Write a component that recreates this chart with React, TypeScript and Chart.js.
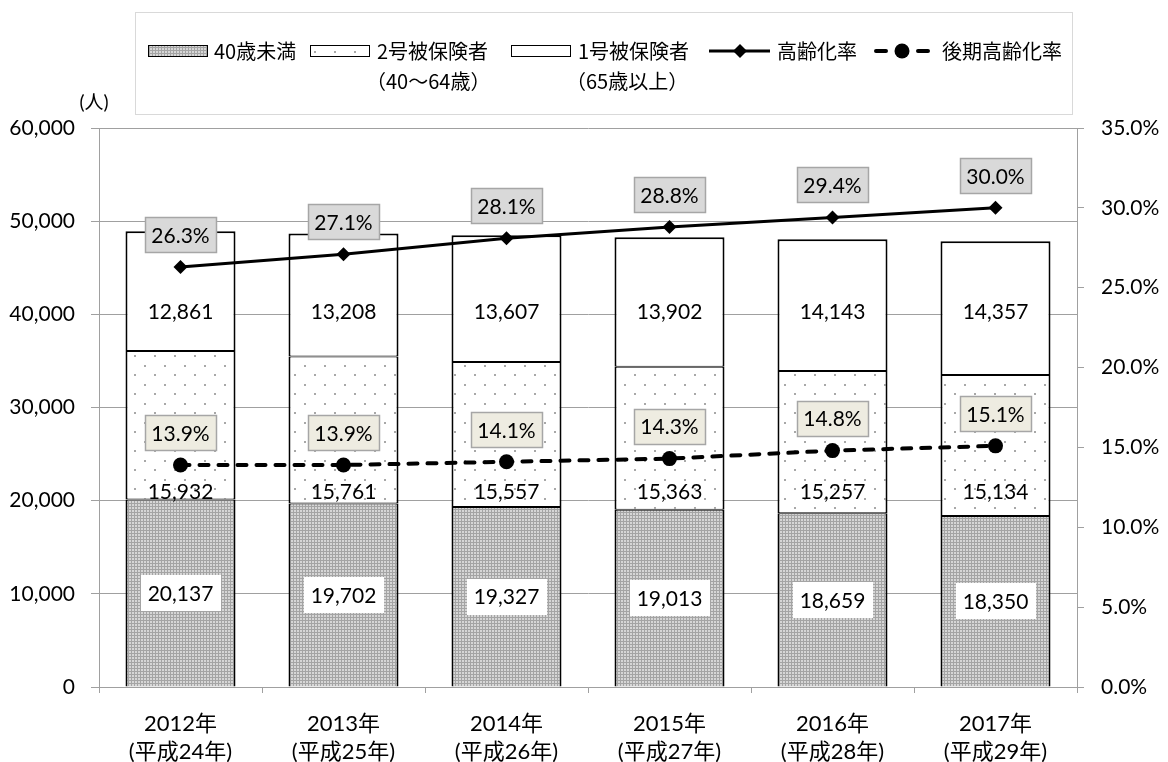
import { useEffect, useRef } from 'react';
import { Chart, registerables } from 'chart.js';

Chart.register(...registerables);

// ---- data ----
const years = ['2012年', '2013年', '2014年', '2015年', '2016年', '2017年'];
const eras = ['(平成24年)', '(平成25年)', '(平成26年)', '(平成27年)', '(平成28年)', '(平成29年)'];
const under40 = [20137, 19702, 19327, 19013, 18659, 18350];
const insured2 = [15932, 15761, 15557, 15363, 15257, 15134];
const insured1 = [12861, 13208, 13607, 13902, 14143, 14357];
const agingRate = [26.3, 27.1, 28.1, 28.8, 29.4, 30.0];
const lateAgingRate = [13.9, 13.9, 14.1, 14.3, 14.8, 15.1];
const leftAxis = { min: 0, max: 60000, step: 10000 };
const rightAxis = { min: 0, max: 35, step: 5 };

const FONT = "Lato, 'Noto Sans CJK JP', sans-serif";
const JFONT = "'Noto Sans CJK JP', sans-serif";
const GRID = '#a0a0a0';

function makeChecker(ctx: CanvasRenderingContext2D): CanvasPattern {
  const c = document.createElement('canvas');
  c.width = 3;
  c.height = 3;
  const g = c.getContext('2d')!;
  g.fillStyle = '#a4a4a4';
  g.fillRect(0, 0, 3, 3);
  g.fillStyle = '#d6d6d6';
  g.fillRect(0, 0, 2, 2);
  return ctx.createPattern(c, 'repeat')!;
}

function makeDots(ctx: CanvasRenderingContext2D): CanvasPattern {
  const c = document.createElement('canvas');
  c.width = 20;
  c.height = 19;
  const g = c.getContext('2d')!;
  g.fillStyle = '#ffffff';
  g.fillRect(0, 0, 20, 19);
  g.fillStyle = '#a8a8a8';
  g.fillRect(4, 4, 2, 2);
  g.fillRect(14, 13, 2, 2);
  return ctx.createPattern(c, 'repeat')!;
}

function fmt(v: number) {
  return v.toLocaleString('en-US');
}

function boxLabel(
  ctx: CanvasRenderingContext2D,
  x: number,
  y: number,
  text: string,
  fill: string,
  stroke: string | null,
  padX: number,
  h: number
) {
  const w = Math.round(ctx.measureText(text).width + padX * 2);
  const left = Math.round(x - w / 2);
  const top = Math.round(y - h / 2);
  ctx.fillStyle = fill;
  ctx.fillRect(left, top, w, h);
  if (stroke) {
    ctx.strokeStyle = stroke;
    ctx.lineWidth = 1.5;
    ctx.strokeRect(left + 0.5, top + 0.5, w - 1, h - 1);
  }
  ctx.fillStyle = '#000';
  ctx.fillText(text, x, y + 1);
}

export default function App() {
  const ref = useRef<HTMLCanvasElement>(null);

  useEffect(() => {
    document.body.style.margin = '0';
    const canvas = ref.current!;
    const ctx = canvas.getContext('2d')!;
    const checker = makeChecker(ctx);
    const dots = makeDots(ctx);

    const labelPlugin = {
      id: 'valueLabels',
      afterDatasetsDraw(chart: any) {
        const c: CanvasRenderingContext2D = chart.ctx;
        const ys = chart.scales.y;
        c.save();
        c.font = `21px ${FONT}`;
        c.textAlign = 'center';
        c.textBaseline = 'middle';
        const mU = chart.getDatasetMeta(2);
        const m2 = chart.getDatasetMeta(3);
        const m1 = chart.getDatasetMeta(4);
        const mA = chart.getDatasetMeta(0);
        const mL = chart.getDatasetMeta(1);
        const row2 = ys.getPixelForValue(20900);
        const row1 = ys.getPixelForValue(40200);
        under40.forEach((v, i) => {
          const b = mU.data[i];
          boxLabel(c, b.x, (b.y + b.base) / 2, fmt(v), '#ffffff', null, 7, 36);
        });
        insured2.forEach((v, i) => {
          c.fillStyle = '#000';
          c.fillText(fmt(v), m2.data[i].x, row2);
        });
        insured1.forEach((v, i) => {
          c.fillStyle = '#000';
          c.fillText(fmt(v), m1.data[i].x, row1);
        });
        agingRate.forEach((v, i) => {
          const p = mA.data[i];
          boxLabel(c, p.x, p.y - 32, v.toFixed(1) + '%', '#d9d9d9', '#a6a6a6', 7, 36);
        });
        lateAgingRate.forEach((v, i) => {
          const p = mL.data[i];
          boxLabel(c, p.x, p.y - 32, v.toFixed(1) + '%', '#eeece1', '#a6a6a6', 7, 36);
        });
        c.restore();
      },
    };

    const legendPlugin = {
      id: 'customLegend',
      afterDraw(chart: any) {
        const c: CanvasRenderingContext2D = chart.ctx;
        c.save();
        // frame
        c.strokeStyle = '#d9d9d9';
        c.lineWidth = 1;
        c.strokeRect(135.5, 12.5, 937, 102);
        const ty = 51;
        c.font = `20px ${JFONT}`;
        c.textBaseline = 'middle';
        c.textAlign = 'left';
        // item 1
        c.fillStyle = checker;
        c.fillRect(148, 45, 60, 12);
        c.strokeStyle = '#000';
        c.strokeRect(148.5, 45.5, 59, 11);
        c.fillStyle = '#000';
        c.fillText('40歳未満', 214, ty);
        // item 2
        c.fillStyle = dots;
        c.fillRect(310, 45, 60, 12);
        c.strokeStyle = '#000';
        c.strokeRect(310.5, 45.5, 59, 11);
        c.fillStyle = '#000';
        c.fillText('2号被保険者', 377, ty);
        c.fillText('（40～64歳）', 366, 81);
        // item 3
        c.fillStyle = '#fff';
        c.fillRect(511, 45, 60, 12);
        c.strokeStyle = '#000';
        c.strokeRect(511.5, 45.5, 59, 11);
        c.fillStyle = '#000';
        c.fillText('1号被保険者', 578, ty);
        c.fillText('（65歳以上）', 566, 81);
        // item 4 solid line + diamond
        c.strokeStyle = '#000';
        c.lineWidth = 3;
        c.beginPath();
        c.moveTo(709, ty);
        c.lineTo(770, ty);
        c.stroke();
        c.beginPath();
        c.moveTo(740, ty - 7);
        c.lineTo(747, ty);
        c.lineTo(740, ty + 7);
        c.lineTo(733, ty);
        c.closePath();
        c.fill();
        c.fillText('高齢化率', 777, ty);
        // item 5 dashed + circle
        c.lineWidth = 4;
        c.lineCap = 'round';
        c.beginPath();
        c.moveTo(876, ty);
        c.lineTo(886, ty);
        c.moveTo(918, ty);
        c.lineTo(928, ty);
        c.stroke();
        c.beginPath();
        c.arc(902, ty, 7.5, 0, Math.PI * 2);
        c.fill();
        c.fillText('後期高齢化率', 942, ty);
        // y axis unit
        c.font = `19px ${FONT}`;
        c.textAlign = 'center';
        c.fillText('(人)', 94, 103);
        c.restore();
      },
    };

    const tickFont = { family: FONT, size: 21 };

    const chart = new Chart(canvas, {
      type: 'bar',
      data: {
        labels: years.map((y, i) => [y, eras[i]]),
        datasets: [
          {
            type: 'line',
            label: '高齢化率',
            data: agingRate,
            yAxisID: 'y2',
            borderColor: '#000',
            backgroundColor: '#000',
            borderWidth: 3,
            pointStyle: 'rectRot',
            pointRadius: 7,
            pointBorderWidth: 0,
            pointBackgroundColor: '#000',
            order: 0,
          },
          {
            type: 'line',
            label: '後期高齢化率',
            data: lateAgingRate,
            yAxisID: 'y2',
            borderColor: '#000',
            backgroundColor: '#000',
            borderWidth: 4,
            borderDash: [9, 10],
            borderCapStyle: 'round',
            pointStyle: 'circle',
            pointRadius: 7.5,
            pointBorderWidth: 0,
            pointBackgroundColor: '#000',
            order: 0,
          },
          {
            type: 'bar',
            label: '40歳未満',
            data: under40,
            yAxisID: 'y',
            stack: 's',
            backgroundColor: checker,
            borderColor: '#000',
            borderWidth: { top: 1, bottom: 0, left: 2, right: 2 },
            borderSkipped: false,
            order: 1,
          },
          {
            type: 'bar',
            label: '2号被保険者',
            data: insured2,
            yAxisID: 'y',
            stack: 's',
            backgroundColor: dots,
            borderColor: '#000',
            borderWidth: { top: 1, bottom: 1, left: 2, right: 2 },
            borderSkipped: false,
            order: 1,
          },
          {
            type: 'bar',
            label: '1号被保険者',
            data: insured1,
            yAxisID: 'y',
            stack: 's',
            backgroundColor: '#ffffff',
            borderColor: '#000',
            borderWidth: { top: 2, bottom: 1, left: 2, right: 2 },
            borderSkipped: false,
            order: 1,
          },
        ],
      } as any,
      options: {
        responsive: false,
        animation: false,
        devicePixelRatio: 1,
        layout: { padding: { top: 128, left: 0, right: 0, bottom: 0 } },
        datasets: {
          bar: { categoryPercentage: 1, barPercentage: 0.675 },
        },
        plugins: {
          legend: { display: false },
          tooltip: { enabled: false },
        },
        scales: {
          x: {
            stacked: true,
            offset: true,
            grid: { offset: true, drawOnChartArea: false, color: GRID, tickLength: 6 },
            border: { color: GRID },
            ticks: {
              font: { family: FONT, size: 22, lineHeight: 1.27 },
              color: '#000',
              padding: 17,
              maxRotation: 0,
              autoSkip: false,
            },
            afterFit: (s: any) => {
              s.height = 75;
            },
          },
          y: {
            stacked: true,
            min: leftAxis.min,
            max: leftAxis.max,
            ticks: {
              stepSize: leftAxis.step,
              callback: (v: any) => fmt(Number(v)),
              font: tickFont,
              color: '#000',
              padding: 16,
            },
            grid: { color: GRID, tickLength: 8 },
            border: { color: GRID },
            afterFit: (s: any) => {
              s.width = 99;
            },
          },
          y2: {
            position: 'right',
            min: rightAxis.min,
            max: rightAxis.max,
            ticks: {
              stepSize: rightAxis.step,
              callback: (v: any) => Number(v).toFixed(1) + '%',
              font: tickFont,
              color: '#000',
              padding: 17,
            },
            grid: { drawOnChartArea: false, color: GRID, tickLength: 7 },
            border: { color: GRID },
            afterFit: (s: any) => {
              s.width = 91;
            },
          },
        },
      } as any,
      plugins: [labelPlugin, legendPlugin],
    });

    return () => chart.destroy();
  }, []);

  return <canvas ref={ref} width={1168} height={762} style={{ display: 'block' }} />;
}
